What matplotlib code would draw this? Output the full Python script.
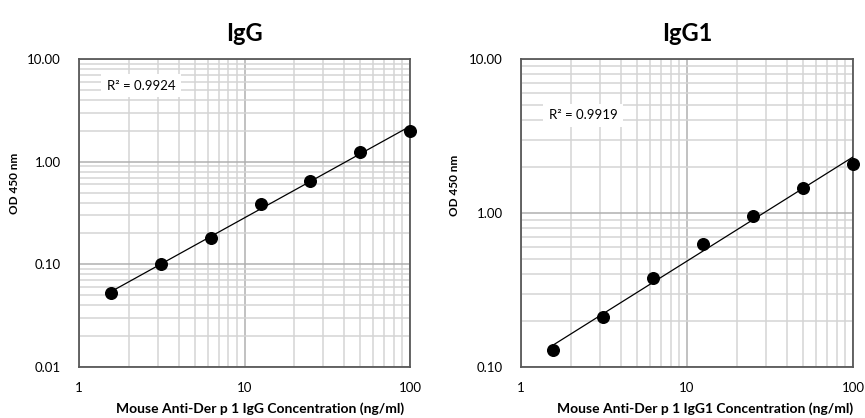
import numpy as np
import matplotlib
matplotlib.use("Agg")
import matplotlib.pyplot as plt
from matplotlib.ticker import FixedLocator, FixedFormatter, LogLocator, NullFormatter

plt.rcParams['font.family'] = ['Lato', 'DejaVu Sans']

conc = [1.5625, 3.125, 6.25, 12.5, 25, 50, 100]
igg_od = [0.052, 0.100, 0.180, 0.39, 0.65, 1.25, 2.01]
igg1_od = [0.129, 0.211, 0.378, 0.632, 0.956, 1.45, 2.08]

titles = ["IgG", "IgG1"]
xlabels = ["Mouse Anti-Der p 1 IgG Concentration (ng/ml)",
           "Mouse Anti-Der p 1 IgG1 Concentration (ng/ml)"]
ylabel = "OD 450 nm"
r2_labels = ["R² = 0.9924", "R² = 0.9919"]
ylims = [(0.01, 10), (0.1, 10)]
yticks = [[0.01, 0.1, 1, 10], [0.1, 1, 10]]
ytick_labels = [["0.01", "0.10", "1.00", "10.00"], ["0.10", "1.00", "10.00"]]
xticks = [1, 10, 100]
xtick_labels = ["1", "10", "100"]
r2_pos = [(1.47, 5.5), (1.47, 4.3)]

W, H = 865, 418
fig = plt.figure(figsize=(W / 100, H / 100), dpi=100)

axes_px = [(79, 59, 331, 308), (521, 59, 332, 308)]
ylabel_xy = [(15, 183), (455, 185)]
xlabel_cx = [260, 705]

for i, (series, (l, t, w, h)) in enumerate(zip([igg_od, igg1_od], axes_px)):
    ax = fig.add_axes([l / W, (H - t - h) / H, w / W, h / H])
    ax.set_xscale('log')
    ax.set_yscale('log')
    ax.set_xlim(1, 100)
    ax.set_ylim(*ylims[i])
    ax.xaxis.set_major_locator(FixedLocator(xticks))
    ax.xaxis.set_major_formatter(FixedFormatter(xtick_labels))
    ax.yaxis.set_major_locator(FixedLocator(yticks[i]))
    ax.yaxis.set_major_formatter(FixedFormatter(ytick_labels[i]))
    ax.xaxis.set_minor_locator(LogLocator(base=10, subs=np.arange(2, 10)))
    ax.yaxis.set_minor_locator(LogLocator(base=10, subs=np.arange(2, 10)))
    ax.xaxis.set_minor_formatter(NullFormatter())
    ax.yaxis.set_minor_formatter(NullFormatter())
    ax.grid(True, which='minor', color='#d4d4d4', linewidth=1.1)
    ax.grid(True, which='major', color='#b0b0b0', linewidth=1.1)
    ax.set_axisbelow(True)
    for s in ax.spines.values():
        s.set_color('#595959')
        s.set_linewidth(1.3)
    ax.tick_params(which='both', length=0, labelsize=9.5, colors='#000000')
    ax.tick_params(axis='y', pad=13)
    ax.tick_params(axis='x', pad=11)

    x = np.array(conc)
    y = np.array(series)
    b, a = np.polyfit(np.log10(x), np.log10(y), 1)
    xf = np.array([x.min(), x.max()])
    ax.plot(xf, 10 ** (a + b * np.log10(xf)), color='black', linewidth=0.9, zorder=3)
    ax.scatter(x, y, s=70, color='black', zorder=4, clip_on=False)

    ax.text(r2_pos[i][0], r2_pos[i][1], r2_labels[i], fontsize=9.5, va='center', ha='left',
            bbox=dict(facecolor='white', edgecolor='none', pad=4), zorder=5)

    ax.set_title(titles[i], fontsize=17, fontweight='bold', pad=13)
    ax.set_xlabel(xlabels[i], fontsize=10, fontweight='bold', va='center')
    ax.xaxis.set_label_coords((xlabel_cx[i] - l) / w, -42 / h)
    fig.text(ylabel_xy[i][0] / W, 1 - ylabel_xy[i][1] / H, ylabel, rotation=90, fontsize=8.5,
             fontweight='bold', ha='center', va='center')

fig.savefig("out.png", dpi=100)
